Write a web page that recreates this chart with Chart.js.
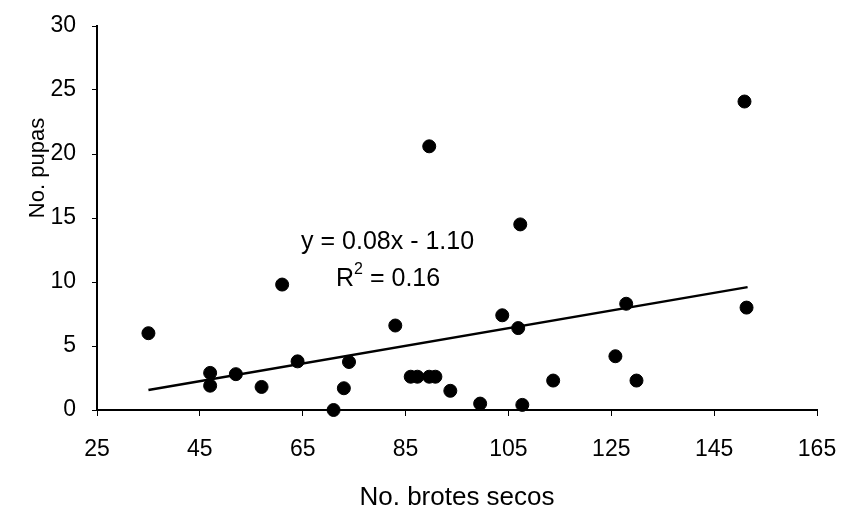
<!DOCTYPE html>
<html>
<head>
<meta charset="utf-8">
<script src="https://cdn.jsdelivr.net/npm/chart.js@4"></script>
<style>
  html, body { margin: 0; padding: 0; background: #fff; }
  #wrap { width: 843px; height: 514px; position: relative; }
</style>
</head>
<body>
<div id="wrap"><canvas id="chart" width="843" height="514"></canvas></div>
<script>
// 브로테스 vs 푸파 산점도 + 추세선
var brotes = [35, 47, 47, 52, 57, 61, 64, 71, 73, 74, 83, 86, 87.3, 89.6, 90.8, 89.6, 93.7, 99.5, 103.8, 106.9, 107.3, 107.7, 113.7, 125.8, 127.9, 129.9, 150.9, 151.3];
var pupas  = [6.0, 2.9, 1.9, 2.8, 1.8, 9.8, 3.8, 0, 1.7, 3.75, 6.6, 2.6, 2.6, 2.6, 2.6, 20.6, 1.5, 0.5, 7.4, 6.4, 14.5, 0.4, 2.3, 4.2, 8.3, 2.3, 24.1, 8.0];

var trendX = [35, 151.5];
var trendY = [1.56, 9.6];

var xTicks = [25, 45, 65, 85, 105, 125, 145, 165];
var yTicks = [0, 5, 10, 15, 20, 25, 30];

var eqLine1 = 'y = 0.08x - 1.10';
var eqR2 = '0.16';
var eqAt = { x: 81.5, y: 13.1 };
var r2At = { x: 81.6, y: 10.2 };

var FONT = '"Liberation Sans", Arial, sans-serif';

function toPoints(xs, ys) {
  return xs.map(function (x, i) { return { x: x, y: ys[i] }; });
}

// 수식 텍스트와 y축 제목
var labelsPlugin = {
  id: 'labels',
  afterDraw: function (chart) {
    var ctx = chart.ctx;
    var sx = chart.scales.x, sy = chart.scales.y;
    ctx.save();
    ctx.fillStyle = '#000';
    ctx.textBaseline = 'middle';

    ctx.font = '25px ' + FONT;
    ctx.textAlign = 'center';
    ctx.fillText(eqLine1, sx.getPixelForValue(eqAt.x), sy.getPixelForValue(eqAt.y));

    var rest = ' = ' + eqR2;
    var wR = ctx.measureText('R').width;
    var wRest = ctx.measureText(rest).width;
    ctx.font = '16px ' + FONT;
    var w2 = ctx.measureText('2').width;
    var total = wR + w2 + wRest;
    var cx = sx.getPixelForValue(r2At.x) - total / 2;
    var cy = sy.getPixelForValue(r2At.y);
    ctx.textAlign = 'left';
    ctx.font = '25px ' + FONT;
    ctx.fillText('R', cx, cy);
    ctx.font = '16px ' + FONT;
    ctx.fillText('2', cx + wR, cy - 10);
    ctx.font = '25px ' + FONT;
    ctx.fillText(rest, cx + wR + w2, cy);

    ctx.translate(38, 168);
    ctx.rotate(-Math.PI / 2);
    ctx.textAlign = 'center';
    ctx.font = '22px ' + FONT;
    ctx.fillText('No. pupas', 0, 0);
    ctx.restore();
  }
};

new Chart(document.getElementById('chart'), {
  type: 'scatter',
  data: {
    datasets: [
      {
        label: 'datos',
        data: toPoints(brotes, pupas),
        backgroundColor: '#000',
        borderColor: '#000',
        pointRadius: 6.5,
        pointHoverRadius: 6.5,
        clip: false
      },
      {
        type: 'line',
        label: 'tendencia',
        data: toPoints(trendX, trendY),
        borderColor: '#000',
        borderWidth: 2.5,
        pointRadius: 0,
        fill: false,
        tension: 0
      }
    ]
  },
  options: {
    responsive: false,
    animation: false,
    devicePixelRatio: 1,
    layout: { padding: { left: 0, top: 26, right: 0, bottom: 0 } },
    plugins: { legend: { display: false }, tooltip: { enabled: false } },
    scales: {
      x: {
        type: 'linear',
        min: 25,
        max: 165,
        afterBuildTicks: function (s) { s.ticks = xTicks.map(function (v) { return { value: v }; }); },
        afterFit: function (s) { s.height = 104; s.paddingLeft = 0; s.paddingRight = 26; },
        border: { display: true, color: '#000', width: 2 },
        grid: { drawOnChartArea: false, drawTicks: true, tickLength: 6, color: '#000' },
        ticks: { color: '#000', padding: 20, maxRotation: 0, font: { family: FONT, size: 23 } },
        title: { display: true, text: 'No. brotes secos', color: '#000', padding: { top: 0, bottom: 1 }, font: { family: FONT, size: 26 } }
      },
      y: {
        type: 'linear',
        min: 0,
        max: 30,
        afterBuildTicks: function (s) { s.ticks = yTicks.map(function (v) { return { value: v }; }); },
        afterFit: function (s) { s.width = 97; s.paddingTop = 0; s.paddingBottom = 0; },
        border: { display: true, color: '#000', width: 2 },
        grid: { drawOnChartArea: false, drawTicks: true, tickLength: 5, color: '#000' },
        ticks: { color: '#000', padding: 16, font: { family: FONT, size: 23 } }
      }
    }
  },
  plugins: [labelsPlugin]
});
</script>
</body>
</html>
